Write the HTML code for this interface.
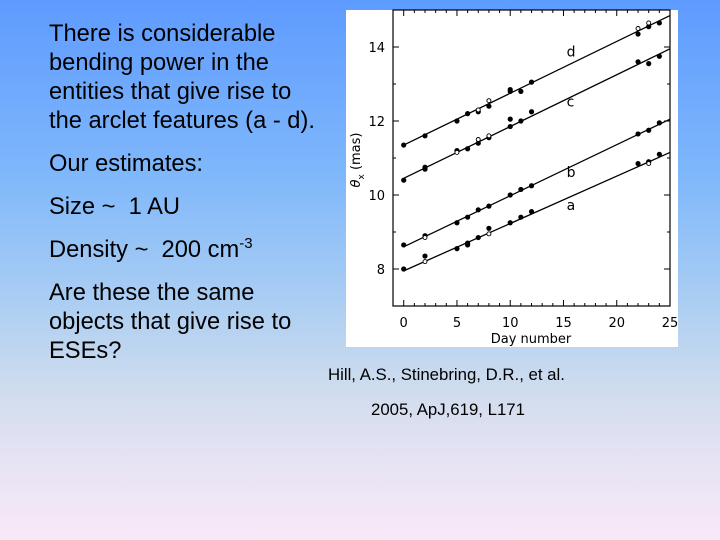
<!DOCTYPE html>
<html><head><meta charset="utf-8"><style>
body{margin:0}
#slide{position:relative;width:720px;height:540px;overflow:hidden;background:linear-gradient(to bottom,#5e9bff 0%,#80b8fb 33%,#a9cdf3 55%,#cfdcee 72%,#e6e3f3 85%,#f8e8f8 100%);font-family:"Liberation Sans",sans-serif;color:#000}
.t{position:absolute;left:49px;font-size:23.7px;line-height:29px;margin:0}
.cite{position:absolute;font-size:16.8px}
</style></head><body>
<div id="slide">
<p class="t" style="top:20px">There is considerable<br>bending power in the<br>entities that give rise to<br>the arclet features (a - d).</p>
<p class="t" style="top:150px">Our estimates:</p>
<p class="t" style="top:193px">Size ~&nbsp; 1 AU</p>
<p class="t" style="top:236px">Density ~&nbsp; 200 cm<sup style="font-size:15px;vertical-align:9px;line-height:0">-3</sup></p>
<p class="t" style="top:279px">Are these the same<br>objects that give rise to<br>ESEs?</p>
<div class="cite" style="left:328px;top:365px">Hill, A.S., Stinebring, D.R., et al.</div>
<div class="cite" style="left:371px;top:400px">2005, ApJ,619, L171</div>
<svg id="chart" width="720" height="540" style="position:absolute;left:0;top:0"></svg>
</div>
<script>
const xTicks=[0,5,10,15,20,25];
const yTicks=[8,10,12,14];
const lineA=[7.95,11.15], lineB=[8.6,12.05], lineC=[10.45,13.95], lineD=[11.35,14.85];
const dX=[0,2,5,6,7,8,10,10,11,12,22,23,24];
const dY=[11.35,11.6,12.0,12.2,12.25,12.4,12.85,12.8,12.8,13.05,14.35,14.55,14.65];
const dOX=[7,8,22,23], dOY=[12.3,12.55,14.5,14.65];
const cX=[0,2,2,5,6,7,8,10,10,11,12,22,23,24];
const cY=[10.4,10.7,10.75,11.2,11.25,11.4,11.55,12.05,11.85,12.0,12.25,13.6,13.55,13.75];
const cOX=[5,7,8], cOY=[11.15,11.5,11.6];
const bX=[0,2,5,6,7,8,10,11,12,22,23,24];
const bY=[8.65,8.9,9.25,9.4,9.6,9.7,10.0,10.15,10.25,11.65,11.75,11.95];
const bOX=[2], bOY=[8.85];
const aX=[0,2,5,6,6,7,8,10,11,12,22,23,24];
const aY=[8.0,8.35,8.55,8.65,8.7,8.85,9.1,9.25,9.4,9.55,10.85,10.9,11.1];
const aOX=[2,8,23], aOY=[8.2,8.95,10.85];
const series=[["a",aX,aY,aOX,aOY,lineA,9.7],["b",bX,bY,bOX,bOY,lineB,10.6],["c",cX,cY,cOX,cOY,lineC,12.5],["d",dX,dY,dOX,dOY,lineD,13.85]];

const NS="http://www.w3.org/2000/svg",svg=document.getElementById('chart');
const L=393,R=670,T=10,B=306;
const X=v=>403.7+(v-0)*(670-403.7)/25;
const Y=v=>306-(v-7)*(296/8);
function mk(tag,at,p){const e=document.createElementNS(NS,tag);for(const k in at)e.setAttribute(k,at[k]);(p||svg).appendChild(e);return e;}
const bg=mk('rect',{x:346,y:10,width:332,height:337,fill:'#fff'});


const fr=mk('rect',{x:L,y:T,width:R-L,height:B-T,fill:'none',stroke:'#000','stroke-width':1.2});


for(let v=0;v<=25;v++){const len=v%5==0?6:3;
 mk('line',{x1:X(v),x2:X(v),y1:B,y2:B-len,stroke:'#000'});mk('line',{x1:X(v),x2:X(v),y1:T,y2:T+len,stroke:'#000'});}
for(let v=7;v<=15;v++){const len=v%2==0?6:3;
 mk('line',{x1:L,x2:L+len,y1:Y(v),y2:Y(v),stroke:'#000'});mk('line',{x1:R,x2:R-len,y1:Y(v),y2:Y(v),stroke:'#000'});}
xTicks.forEach(v=>{const t=mk('text',{x:X(v),y:327,'text-anchor':'middle','font-size':13,'font-family':'DejaVu Sans, sans-serif'});t.textContent=v;
 
 });
yTicks.forEach(v=>{const t=mk('text',{x:385,y:Y(v)+5,'text-anchor':'end','font-size':13,'font-family':'DejaVu Sans, sans-serif'});t.textContent=v;
 
 });
const xt=mk('text',{x:531,y:343,'text-anchor':'middle','font-size':13,'font-family':'DejaVu Sans, sans-serif'});xt.textContent='Day number';


const yt=mk('text',{transform:'translate(360,160) rotate(-90)','text-anchor':'middle','font-size':13,'font-family':'DejaVu Sans, sans-serif'});
yt.innerHTML='<tspan font-style="italic">θ</tspan><tspan font-size="9" dy="4">x</tspan><tspan dy="-4"> (mas)</tspan>';


series.forEach(([n,xs,ys,ox,oy,ln,ly])=>{
 const g=mk('g',{});
 
 
 const l=mk('line',{x1:X(0),y1:Y(ln[0]),x2:X(25),y2:Y(ln[1]),stroke:'#000','stroke-width':1.3},g);
 
 
 xs.forEach((x,i)=>{const c=mk('circle',{cx:X(x),cy:Y(ys[i]),r:2.6,fill:'#000'},g);
  
  });
 ox.forEach((x,i)=>{const c=mk('circle',{cx:X(x),cy:Y(oy[i]),r:2,fill:'#fff',stroke:'#000','stroke-width':0.9},g);
  
  });
 const t=mk('text',{x:X(15.3),y:Y(ly)+4,'font-size':14,'font-family':'DejaVu Sans, sans-serif'},g);t.textContent=n;
 
 
});
</script>
</body></html>
